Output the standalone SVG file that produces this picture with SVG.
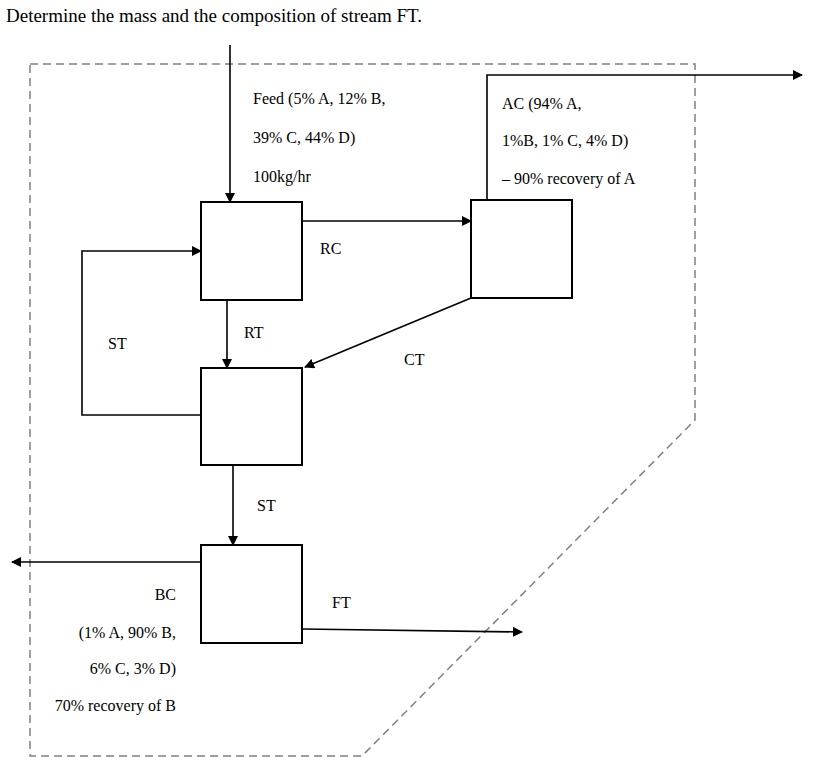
<svg xmlns="http://www.w3.org/2000/svg" width="817" height="765" viewBox="0 0 817 765">
<style>
text{font-family:"Liberation Serif","Times New Roman",serif;font-size:16px;fill:#000}
.box{fill:#fff;stroke:#000;stroke-width:2}
.ln{fill:none;stroke:#000;stroke-width:1.6}
.bd{fill:none;stroke:#808080;stroke-width:1.5;stroke-dasharray:8,5}
</style>
<defs><marker id="ah" markerWidth="10" markerHeight="10" refX="9" refY="5" orient="auto" markerUnits="userSpaceOnUse"><path d="M0,0 L10,5 L0,10 Z" fill="#000"/></marker></defs>
<text x="6" y="22" style="font-size:19px">Determine the mass and the composition of stream FT.</text>
<path class="bd" d="M30,64 H695 V420 L362,756 H30 Z"/>
<g id="connectors">
<path class="ln" d="M230,45 V202" marker-end="url(#ah)"/>
<path class="ln" d="M487,200 V75 H802" marker-end="url(#ah)"/>
<path class="ln" d="M302,221 H471" marker-end="url(#ah)"/>
<path class="ln" d="M201,415 H82 V251 H201" marker-end="url(#ah)"/>
<path class="ln" d="M227,300 V368" marker-end="url(#ah)"/>
<path class="ln" d="M471,298 L305,367" marker-end="url(#ah)"/>
<path class="ln" d="M233,465 V545" marker-end="url(#ah)"/>
<path class="ln" d="M201,562 H12" marker-end="url(#ah)"/>
<path class="ln" d="M302,629 L522,632" marker-end="url(#ah)"/>
</g>
<g id="n1"><rect class="box" x="201" y="202" width="101" height="98"/></g>
<g id="n2"><rect class="box" x="471" y="200" width="101" height="98"/></g>
<g id="n3"><rect class="box" x="201" y="368" width="101" height="97"/></g>
<g id="n4"><rect class="box" x="201" y="545" width="101" height="98"/></g>
<g id="labels">
<text x="253" y="104">Feed (5% A, 12% B,</text>
<text x="253" y="143">39% C, 44% D)</text>
<text x="253" y="182">100kg/hr</text>
<text x="502" y="109">AC (94% A,</text>
<text x="502" y="146">1%B, 1% C, 4% D)</text>
<text x="502" y="184">– 90% recovery of A</text>
<text x="320" y="254">RC</text>
<text x="244" y="338">RT</text>
<text x="108" y="349">ST</text>
<text x="404" y="365">CT</text>
<text x="257" y="511">ST</text>
<text x="332" y="608">FT</text>
<g text-anchor="end">
<text x="176" y="600">BC</text>
<text x="176" y="638">(1% A, 90% B,</text>
<text x="176" y="674">6% C, 3% D)</text>
<text x="176" y="711">70% recovery of B</text>
</g>
</g>
</svg>
